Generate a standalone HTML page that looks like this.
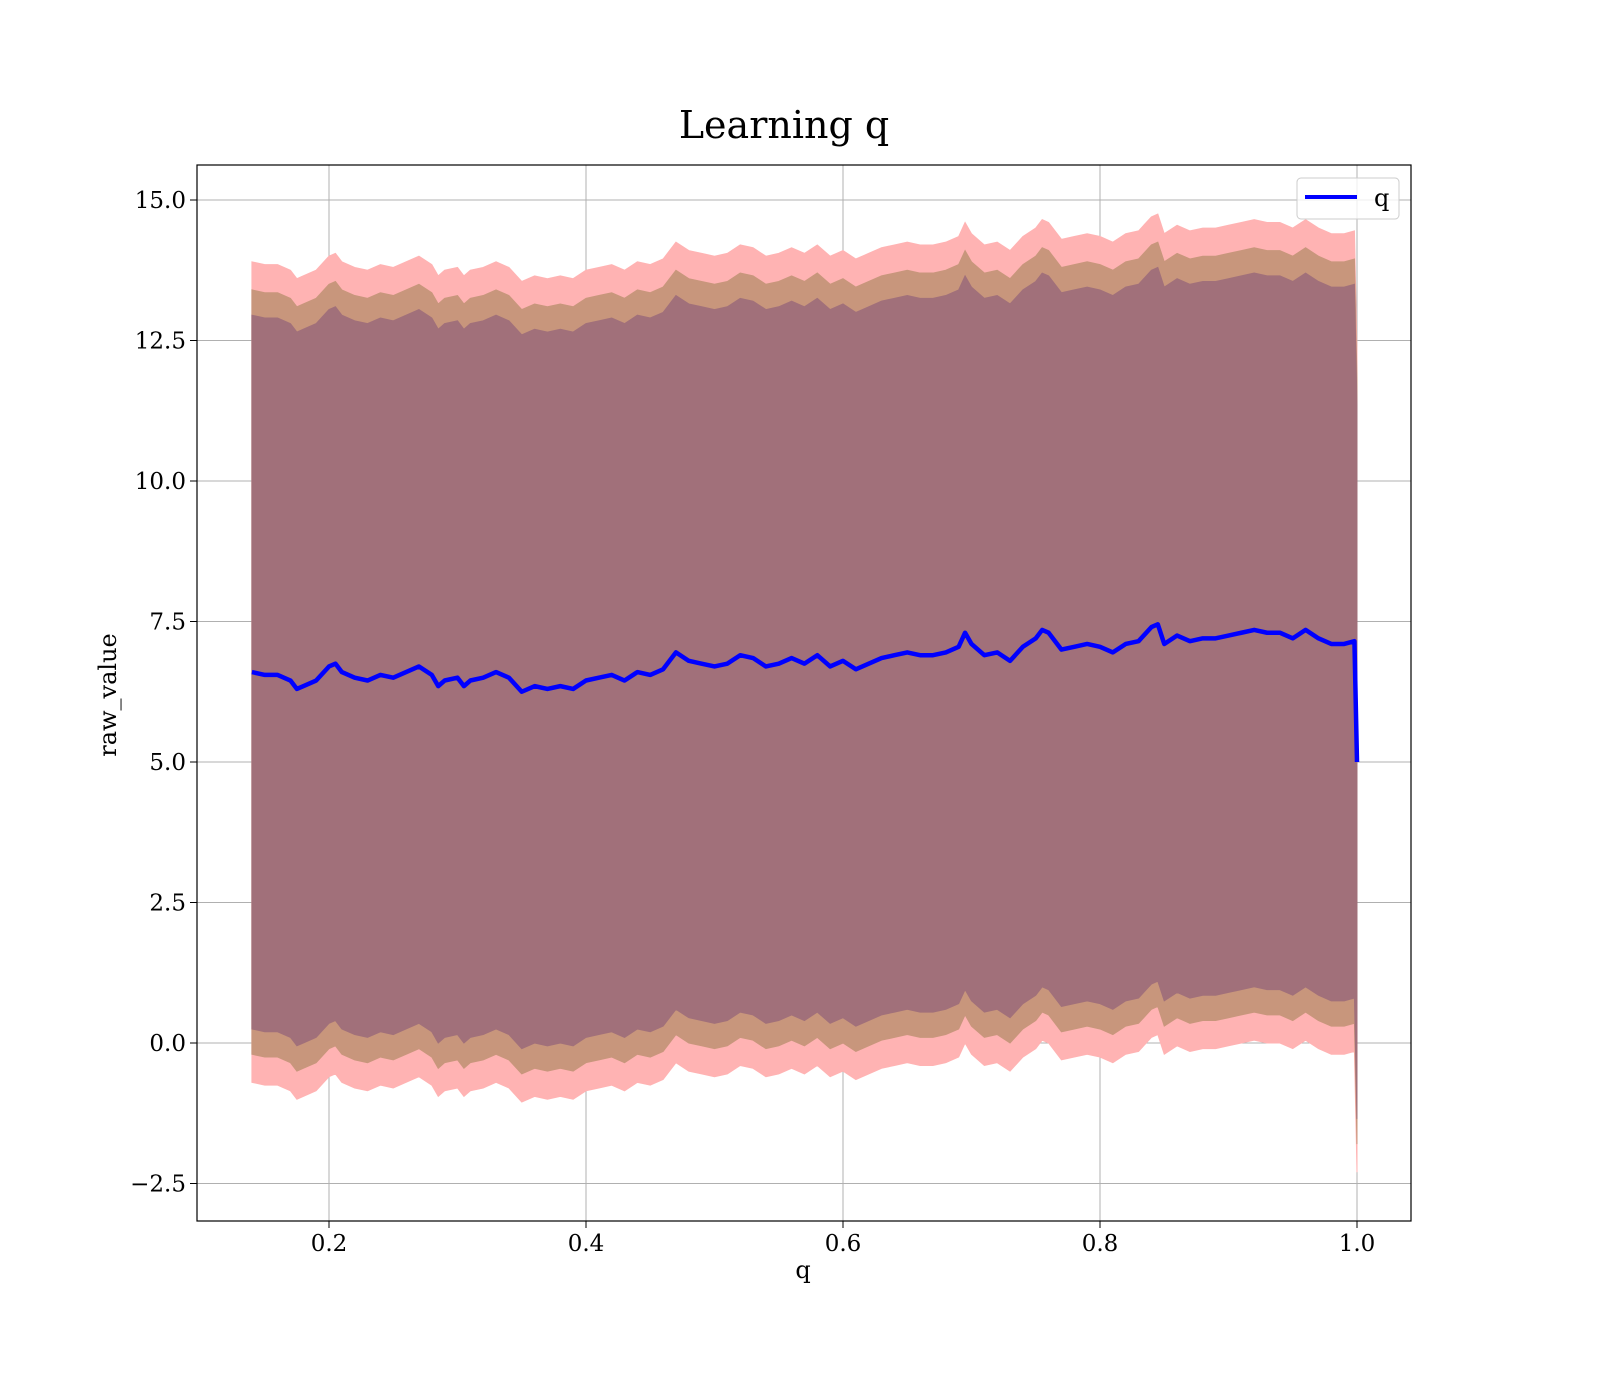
<!DOCTYPE html>
<html><head><meta charset="utf-8"><style>
body{margin:0;background:#fff}
svg{display:block}
text{font-family:"DejaVu Serif","Liberation Serif",serif;fill:#000}
</style></head><body>
<svg id="chart" width="1600" height="1400" viewBox="0 0 1600 1400" xmlns="http://www.w3.org/2000/svg">
<rect width="1600" height="1400" fill="#fff"/>
<text x="784" y="138" font-size="38" text-anchor="middle">Learning q</text>
<g id="grid"></g>
<g id="bands"></g>
<g id="lines"></g>
<rect x="197" y="165" width="1214" height="1056" fill="none" stroke="#000" stroke-width="1.2"/>
<g id="ticks"></g>
<text x="803" y="1278" font-size="24" text-anchor="middle">q</text>
<text x="116" y="695" font-size="24" text-anchor="middle" transform="rotate(-90 116 695)">raw_value</text>
<g>
<rect x="1297" y="178" width="102" height="41" rx="4" fill="#fff" fill-opacity="0.8" stroke="#ccc"/>
<line x1="1305" y1="197" x2="1357" y2="197" stroke="#0000ff" stroke-width="4"/>
<text x="1374" y="206" font-size="24">q</text>
</g>
</svg>
<script>
const qValues=[0.14,0.15,0.16,0.17,0.175,0.18,0.19,0.20,0.205,0.21,0.22,0.23,0.24,0.25,0.26,0.27,0.28,0.285,0.29,0.30,0.305,0.31,0.32,0.33,0.34,0.35,0.36,0.37,0.38,0.39,0.40,0.41,0.42,0.43,0.44,0.45,0.46,0.47,0.48,0.49,0.50,0.51,0.52,0.53,0.54,0.55,0.56,0.57,0.58,0.59,0.60,0.61,0.62,0.63,0.64,0.65,0.66,0.67,0.68,0.69,0.695,0.70,0.71,0.72,0.73,0.74,0.75,0.755,0.76,0.77,0.78,0.79,0.80,0.81,0.82,0.83,0.84,0.845,0.85,0.86,0.87,0.88,0.89,0.90,0.91,0.92,0.93,0.94,0.95,0.96,0.97,0.98,0.99,0.998,1.0];
const meanValues=[6.6,6.55,6.55,6.45,6.3,6.35,6.45,6.7,6.75,6.6,6.5,6.45,6.55,6.5,6.6,6.7,6.55,6.35,6.45,6.5,6.35,6.45,6.5,6.6,6.5,6.25,6.35,6.3,6.35,6.3,6.45,6.5,6.55,6.45,6.6,6.55,6.65,6.95,6.8,6.75,6.7,6.75,6.9,6.85,6.7,6.75,6.85,6.75,6.9,6.7,6.8,6.65,6.75,6.85,6.9,6.95,6.9,6.9,6.95,7.05,7.3,7.1,6.9,6.95,6.8,7.05,7.2,7.35,7.3,7.0,7.05,7.1,7.05,6.95,7.1,7.15,7.4,7.45,7.1,7.25,7.15,7.2,7.2,7.25,7.3,7.35,7.3,7.3,7.2,7.35,7.2,7.1,7.1,7.15,5.0];
const bandOffsets=[7.3,6.8,6.35];
const xTickValues=[0.2,0.4,0.6,0.8,1.0];
const xTickLabels=["0.2","0.4","0.6","0.8","1.0"];
const yTickValues=[-2.5,0,2.5,5,7.5,10,12.5,15];
const yTickLabels=["\u22122.5","0.0","2.5","5.0","7.5","10.0","12.5","15.0"];
const bandColors=["#ffb3b3","#c8967c","#a1707a"];

const NS="http://www.w3.org/2000/svg";
function X(v){return 72+1285*v;}
function Y(v){return 1043-56.2*v;}
function mk(tag,attrs,parent){const e=document.createElementNS(NS,tag);for(const k in attrs)e.setAttribute(k,attrs[k]);document.getElementById(parent).appendChild(e);return e;}

xTickValues.forEach((v,i)=>{
  const g=mk('line',{x1:X(v),x2:X(v),y1:165,y2:1221,stroke:'#b0b0b0','stroke-width':1},'grid');
  
  
  const t=mk('line',{x1:X(v),x2:X(v),y1:1221,y2:1228,stroke:'#000'},'ticks');
  
  
  const l=mk('text',{x:X(v),y:1251,'font-size':23,'text-anchor':'middle'},'ticks');
  l.textContent=xTickLabels[i];
  
  
});
yTickValues.forEach((v,i)=>{
  const g=mk('line',{x1:197,x2:1411,y1:Y(v),y2:Y(v),stroke:'#b0b0b0','stroke-width':1},'grid');
  
  
  const t=mk('line',{x1:190,x2:197,y1:Y(v),y2:Y(v),stroke:'#000'},'ticks');
  
  
  const l=mk('text',{x:186,y:Y(v)+8,'font-size':23,'text-anchor':'end'},'ticks');
  l.textContent=yTickLabels[i];
  
  
});
bandOffsets.forEach((k,bi)=>{
  let up=qValues.map((q,i)=>X(q)+','+Y(meanValues[i]+k));
  let dn=qValues.map((q,i)=>X(q)+','+Y(meanValues[i]-k)).reverse();
  const p=mk('polygon',{points:up.concat(dn).join(' '),fill:bandColors[bi],stroke:bandColors[bi],'stroke-width':1},'bands');
  
  
});
const line=mk('polyline',{points:qValues.map((q,i)=>X(q)+','+Y(meanValues[i])).join(' '),fill:'none',stroke:'#0000ff','stroke-width':4.5,'stroke-linejoin':'round'},'lines');


</script>
</body></html>
